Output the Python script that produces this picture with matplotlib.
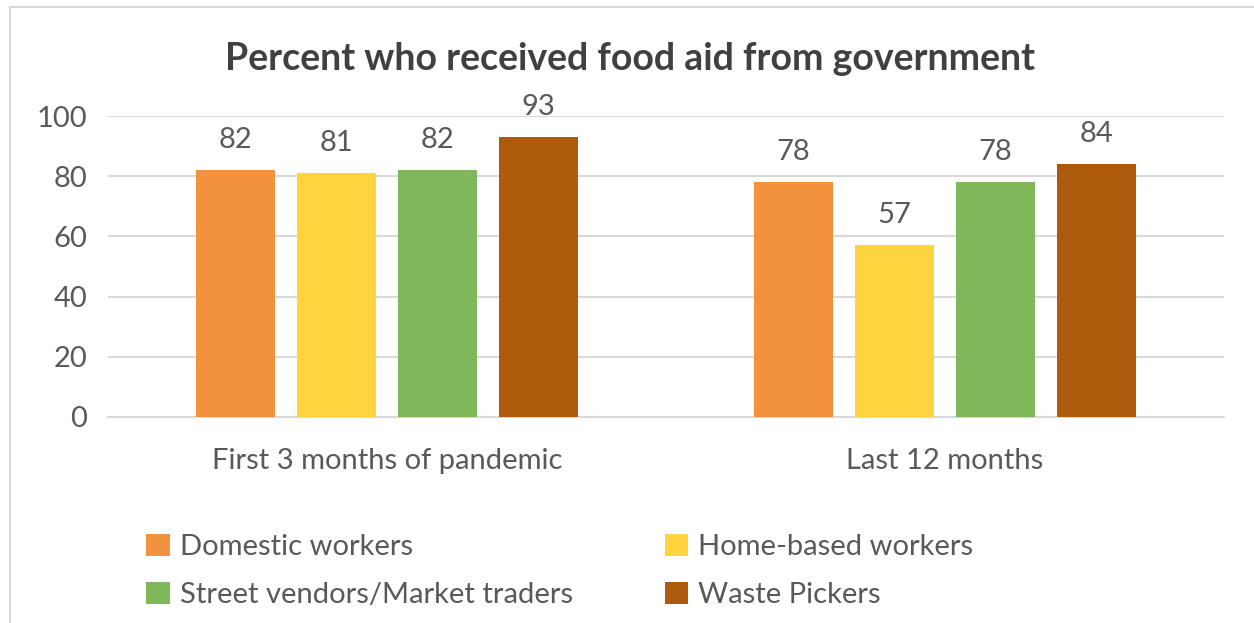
import matplotlib.pyplot as plt
import numpy as np
from matplotlib.patches import Rectangle

categories = ["First 3 months of pandemic", "Last 12 months"]
series_names = [
    "Domestic workers",
    "Home-based workers",
    "Street vendors/Market traders",
    "Waste Pickers",
]
domestic = [82, 78]
home_based = [81, 57]
street_vendors = [82, 78]
waste_pickers = [93, 84]
colors = ["#F2923F", "#FFD43F", "#7FB85A", "#AE5A0C"]
yticks = [0, 20, 40, 60, 80, 100]

plt.rcParams["font.family"] = ["Lato", "DejaVu Sans"]
text_color = "#595959"
fs = 21

fig = plt.figure(figsize=(12.54, 6.23), dpi=100)
ax = fig.add_axes([0.0861, 0.3307, 0.8900, 0.4831])

# light outer frame of the chart area
fig.patches.append(Rectangle((10 / 1254, -0.1), 1.2, 1 - 7 / 623 + 0.1,
                             transform=fig.transFigure, fill=False,
                             edgecolor="#D9D9D9", linewidth=1.5))

x = np.arange(len(categories))
step = 0.181
width = 0.143
series = [domestic, home_based, street_vendors, waste_pickers]
handles = []
for i, (name, vals, c) in enumerate(zip(series_names, series, colors)):
    pos = x + (i - 1.5) * step
    bars = ax.bar(pos, vals, width, color=c, label=name, zorder=3)
    handles.append(bars)
    for b, v in zip(bars, vals):
        ax.text(b.get_x() + b.get_width() / 2, v + 10.0, f"{v}",
                ha="center", va="center", fontsize=fs, color=text_color)

ax.set_xlim(-0.5, 1.5)
ax.set_ylim(0, 100)
ax.set_yticks(yticks)
ax.set_xticks(x)
ax.set_xticklabels(categories)
ax.tick_params(axis="both", length=0, labelsize=fs, colors=text_color)
ax.tick_params(axis="y", pad=15)
ax.tick_params(axis="x", pad=22)
ax.grid(axis="y", color="#D9D9D9", linewidth=1.5, zorder=0)
for s in ["top", "right", "left"]:
    ax.spines[s].set_visible(False)
ax.spines["bottom"].set_color("#D9D9D9")
ax.spines["bottom"].set_linewidth(1.5)

fig.text(0.502, 0.905, "Percent who received food aid from government",
         ha="center", va="center", fontsize=27, fontweight="bold",
         color="#404040")

# row-wise legend order: matplotlib fills columns first
order = [0, 2, 1, 3]
fig.legend([handles[k] for k in order], [series_names[k] for k in order],
           loc="upper left", bbox_to_anchor=(0.105, 0.167), ncol=2,
           frameon=False, fontsize=fs, labelcolor=text_color,
           handlelength=0.8, handleheight=0.8, handletextpad=0.35,
           columnspacing=3.15, labelspacing=0.75, borderpad=0)

fig.savefig("out.png", dpi=100)
